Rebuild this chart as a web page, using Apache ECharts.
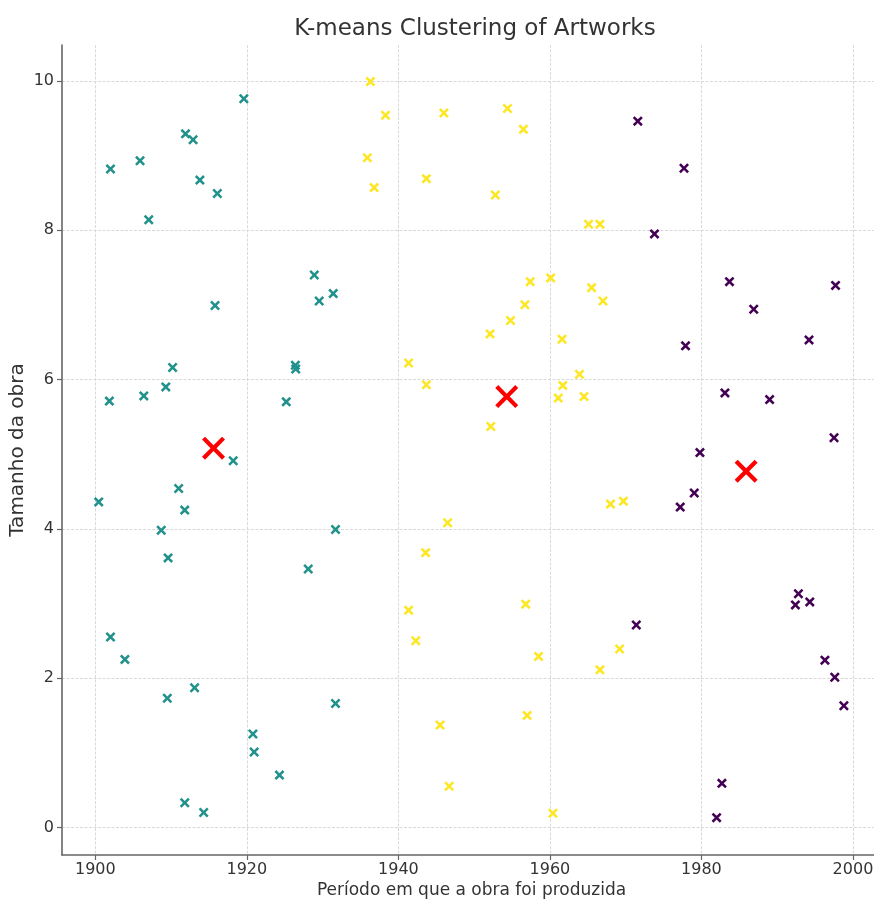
<!DOCTYPE html>
<html>
<head>
<meta charset="utf-8">
<script src="https://cdn.jsdelivr.net/npm/echarts@6/dist/echarts.min.js"></script>
<style>
  html, body { margin: 0; padding: 0; background: #fff; }
  #chart { width: 874px; height: 901px; }
</style>
</head>
<body>
<div id="chart"></div>
<script>
// Cluster 1 (early works)
const cluster1Years = [1919.6, 1911.9, 1912.9, 1902.0, 1905.9, 1913.8, 1916.1, 1907.05, 1928.9, 1929.55,
  1931.4, 1915.8, 1910.2, 1909.3, 1901.85, 1906.4, 1926.4, 1926.45, 1925.2, 1918.2,
  1911.0, 1900.45, 1911.8, 1908.7, 1931.7, 1909.6, 1928.1, 1902.0, 1903.9, 1913.1,
  1909.5, 1931.7, 1920.8, 1920.96, 1924.3, 1911.8, 1914.3];
const cluster1Sizes = [9.76, 9.29, 9.21, 8.82, 8.93, 8.67, 8.49, 8.14, 7.40, 7.05,
  7.15, 6.99, 6.16, 5.90, 5.71, 5.78, 6.19, 6.14, 5.70, 4.91,
  4.54, 4.36, 4.25, 3.98, 3.99, 3.61, 3.46, 2.55, 2.25, 1.87,
  1.73, 1.66, 1.25, 1.01, 0.70, 0.33, 0.20];

// Cluster 2 (mid-century works)
const cluster2Years = [1936.3, 1938.3, 1946.0, 1954.4, 1956.5, 1935.9, 1936.8, 1943.7, 1952.8, 1965.1,
  1966.6, 1957.4, 1960.1, 1956.7, 1965.5, 1967.0, 1954.8, 1952.1, 1961.6, 1941.35,
  1963.9, 1943.7, 1961.7, 1961.1, 1964.5, 1952.2, 1968.0, 1969.7, 1946.5, 1943.6,
  1941.35, 1956.8, 1942.3, 1958.5, 1966.6, 1969.2, 1957.0, 1945.5, 1946.7, 1960.4];
const cluster2Sizes = [9.99, 9.54, 9.57, 9.63, 9.35, 8.97, 8.57, 8.69, 8.47, 8.08,
  8.08, 7.31, 7.36, 7.00, 7.23, 7.05, 6.79, 6.61, 6.54, 6.22,
  6.07, 5.93, 5.92, 5.75, 5.77, 5.37, 4.33, 4.37, 4.08, 3.68,
  2.91, 2.99, 2.50, 2.29, 2.11, 2.39, 1.50, 1.37, 0.55, 0.19];

// Cluster 3 (late works)
const cluster3Years = [1971.6, 1977.7, 1973.8, 1983.7, 1997.7, 1986.9, 1994.2, 1977.9, 1983.1, 1989.0,
  1997.5, 1979.8, 1979.05, 1977.2, 1971.4, 1992.8, 1992.4, 1994.3, 1996.3, 1997.6,
  1998.8, 1982.7, 1982.0];
const cluster3Sizes = [9.46, 8.83, 7.95, 7.31, 7.26, 6.94, 6.53, 6.45, 5.82, 5.73,
  5.22, 5.02, 4.48, 4.29, 2.71, 3.13, 2.98, 3.02, 2.24, 2.01,
  1.63, 0.59, 0.13];

// Cluster centres
const centroidYears = [1915.6, 1954.3, 1985.9];
const centroidSizes = [5.08, 5.77, 4.77];

// Tick positions
const xTicks = [1900, 1920, 1940, 1960, 1980, 2000];
const yTicks = [0, 2, 4, 6, 8, 10];

const zip = (xs, ys) => xs.map((x, i) => [x, ys[i]]);

// "x" marker outline on a 10x10 box; d sets the stroke thickness
function crossPath(d) {
  const S = 10, h = 5;
  const p = [
    [d, 0], [h, h - d], [S - d, 0], [S, d], [h + d, h], [S, S - d],
    [S - d, S], [h, h + d], [d, S], [0, S - d], [h - d, h], [0, d]
  ];
  return 'path://M' + p.map(q => q[0] + ',' + q[1]).join('L') + 'Z';
}
const smallCross = crossPath(1.8);
const bigCross = crossPath(1.3);

const font = 'DejaVu Sans';
const axisColor = '#666';
const gridLine = { show: true, lineStyle: { color: '#d9d9d9', width: 1, type: [3, 1.5] } };
const plainNumber = v => String(v);

function clusterSeries(xs, ys, color) {
  return {
    type: 'scatter',
    data: zip(xs, ys),
    symbol: smallCross,
    symbolSize: 10,
    itemStyle: { color: color, opacity: 1 },
    emphasis: { disabled: true },
    z: 3
  };
}

const chart = echarts.init(document.getElementById('chart'), null, { renderer: 'canvas' });
chart.setOption({
  animation: false,
  backgroundColor: '#ffffff',
  title: {
    text: 'K-means Clustering of Artworks',
    left: 470,
    top: 13,
    textAlign: 'center',
    textStyle: { fontFamily: font, fontSize: 23, fontWeight: 'normal', color: '#333' }
  },
  grid: { left: 62, top: 45, right: -7, bottom: 46, outerBoundsMode: 'none', containLabel: false },
  xAxis: {
    type: 'value',
    min: 1895.6,
    max: 2003.7,
    name: 'Período em que a obra foi produzida',
    nameLocation: 'middle',
    nameGap: 27,
    nameMoveOverlap: false,
    nameTextStyle: { fontFamily: font, fontSize: 17, color: '#333' },
    axisLine: { show: true, onZero: false, lineStyle: { color: axisColor, width: 1.6 } },
    axisTick: { show: true, length: 5, customValues: xTicks, lineStyle: { color: axisColor, width: 1.2 } },
    axisLabel: { customValues: xTicks, formatter: plainNumber, margin: 7, fontFamily: font, fontSize: 16, color: '#333' },
    splitLine: gridLine
  },
  yAxis: {
    type: 'value',
    min: -0.37,
    max: 10.48,
    name: 'Tamanho da obra',
    nameLocation: 'middle',
    nameGap: 34,
    nameRotate: 90,
    nameMoveOverlap: false,
    nameTextStyle: { fontFamily: font, fontSize: 20, color: '#333' },
    axisLine: { show: true, onZero: false, lineStyle: { color: axisColor, width: 1.6 } },
    axisTick: { show: true, length: 5, customValues: yTicks, lineStyle: { color: axisColor, width: 1.2 } },
    axisLabel: { customValues: yTicks, formatter: plainNumber, margin: 8, fontFamily: font, fontSize: 16, color: '#333' },
    splitLine: gridLine
  },
  series: [
    clusterSeries(cluster1Years, cluster1Sizes, '#21918c'),
    clusterSeries(cluster2Years, cluster2Sizes, '#fde725'),
    clusterSeries(cluster3Years, cluster3Sizes, '#440154'),
    {
      type: 'scatter',
      data: zip(centroidYears, centroidSizes),
      symbol: bigCross,
      symbolSize: 23,
      itemStyle: { color: '#ff0000', opacity: 1 },
      emphasis: { disabled: true },
      z: 5
    }
  ]
});
</script>
</body>
</html>
